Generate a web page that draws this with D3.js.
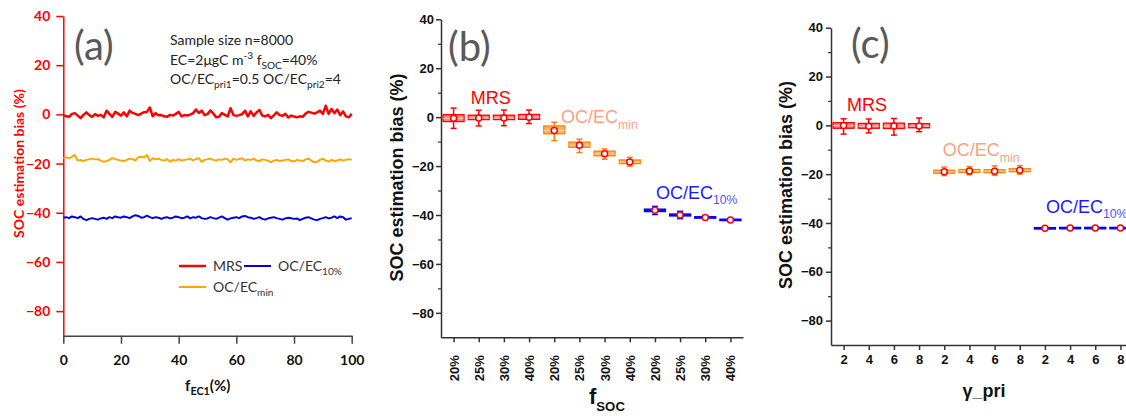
<!DOCTYPE html>
<html>
<head>
<meta charset="utf-8">
<script src="https://cdn.jsdelivr.net/npm/d3@7"></script>
<style>
  body { margin: 0; background: #fff; }
  svg { display: block; }
</style>
</head>
<body>
<script>
// panel (a): bias vs f_EC1, one value per percent step
const fEC1 = d3.range(0, 101)
const mrsLine = [
  -0.3, -0.8, -1.0, 0.2, 0.5, -0.5, -1.5, -0.2, 0.8, -0.3,
  -1.0, 0.1, -0.6, -0.2, -1.2, 1.5, 0.2, -1.0, 1.0, 0.3,
  -0.5, 0.8, -0.8, 1.5, 0.6, 0.2, -0.3, 0.3, 0.9, 1.0,
  2.8, -0.8, 0.5, -0.4, -0.3, -0.8, -1.0, -0.2, -0.5, 0.2,
  1.0, -0.8, -0.3, -0.5, -0.1, 0.5, 2.0, 0.6, 1.5, -0.3,
  0.1, 1.6, 0.4, -1.2, -1.0, 0.5, -0.2, -0.8, 2.5, -0.3,
  -0.6, -0.3, 0.1, 1.5, -0.8, 1.2, -0.6, 0.8, 1.8, -0.5,
  -0.8, -0.2, -1.5, -0.4, 0.8, -0.3, -0.6, 0.2, -1.3, -0.5,
  -0.9, -1.2, -0.8, -1.0, 0.3, 1.0, 0.7, 0.3, 0.8, 1.5,
  0.2, 3.5, 0.2, 2.2, 0.5, 2.0, -0.3, 1.2, -0.8, -1.2, 0.2
]
const minLine = [
  -17.8, -17.5, -17.8, -17.3, -16.5, -18.8, -18.5, -19.0, -18.5, -18.2,
  -18.0, -18.3, -18.2, -18.8, -19.3, -19.0, -18.5, -17.8, -18.2, -18.5,
  -18.8, -19.0, -18.5, -18.0, -18.2, -18.8, -17.5, -17.2, -17.5, -16.5,
  -19.0, -17.8, -18.3, -18.0, -18.5, -18.8, -18.2, -19.3, -18.5, -18.8,
  -18.2, -18.8, -18.5, -18.3, -18.0, -18.7, -18.2, -17.8, -19.3, -18.5,
  -18.2, -18.0, -18.5, -18.8, -18.3, -18.5, -18.0, -18.3, -19.5, -18.0,
  -18.5, -18.2, -17.8, -18.8, -18.3, -18.5, -18.0, -18.8, -19.0, -18.3,
  -18.5, -18.8, -19.5, -18.8, -18.5, -19.0, -18.8, -18.5, -18.3, -19.0,
  -19.2, -18.5, -18.8, -19.0, -18.3, -18.0, -18.8, -19.5, -19.3, -18.5,
  -18.0, -18.8, -19.2, -18.5, -19.0, -18.8, -18.3, -18.8, -18.5, -18.2, -18.5
]
const p10Line = [
  -42.0, -41.8, -42.2, -41.5, -41.8, -42.2, -41.5, -42.5, -43.0, -42.5,
  -42.2, -42.5, -42.8, -42.3, -42.0, -42.5, -41.8, -42.2, -41.5, -41.8,
  -42.0, -41.5, -41.8, -42.2, -41.5, -41.0, -41.3, -42.0, -41.8, -41.2,
  -41.8, -42.2, -41.8, -42.0, -42.5, -42.0, -41.8, -42.3, -42.0, -41.5,
  -41.8, -42.2, -42.0, -41.5, -42.3, -41.8, -42.0, -41.5, -42.2, -42.5,
  -42.3, -41.8, -42.2, -42.5, -42.0, -41.5, -42.2, -42.8, -42.3, -42.0,
  -41.8, -42.2, -41.5, -41.3, -41.8, -42.0, -42.5, -42.2, -41.8, -42.5,
  -42.8, -42.3, -42.0, -41.8, -42.2, -42.5, -42.8, -42.3, -42.0, -42.2,
  -42.5, -42.3, -43.0, -42.5, -42.0, -41.8, -42.3, -42.8, -43.0, -42.5,
  -42.2, -41.8, -42.3, -42.0, -41.5, -42.2, -41.5, -41.8, -42.8, -42.5, -42.2
]

// panel (b): boxes per f_SOC
const fsocLabels = ["20%", "25%", "30%", "40%", "20%", "25%", "30%", "40%", "20%", "25%", "30%", "40%"]
const bMrs = { mean: [-0.5, -0.4, -0.4, 0.0], q1: [-1.8, -1.0, -1.0, -0.9], q3: [1.0, 0.8, 0.8, 1.1], lo: [-4.6, -3.6, -3.5, -2.6], hi: [3.7, 2.8, 2.9, 2.9] }
const bMin = { mean: [-5.5, -11.5, -15.0, -18.3], q1: [-6.8, -12.3, -15.8, -19.0], q3: [-3.6, -10.2, -13.9, -17.5], lo: [-9.6, -14.5, -17.2, -20.0], hi: [-2.1, -9.0, -13.0, -16.4] }
const bP10 = { mean: [-38.1, -40.0, -41.0, -42.0], q1: [-38.6, -40.4, -41.3, -42.3], q3: [-37.6, -39.6, -40.7, -41.7], lo: [-39.8, -41.5, -41.5, -42.5], hi: [-36.5, -38.5, -40.3, -41.5] }

// panel (c): boxes per gamma_pri
const gammaLabels = ["2", "4", "6", "8", "2", "4", "6", "8", "2", "4", "6", "8"]
const cMrs = { mean: [-0.1, -0.4, -0.3, -0.3], q1: [-1.2, -1.2, -1.3, -1.0], q3: [1.1, 0.8, 0.9, 0.7], lo: [-3.6, -3.1, -4.0, -2.6], hi: [2.7, 2.6, 2.8, 3.0] }
const cMin = { mean: [-19.0, -18.7, -18.8, -18.4], q1: [-19.6, -19.3, -19.4, -19.0], q3: [-18.4, -18.1, -18.2, -17.8], lo: [-20.6, -20.3, -20.5, -20.0], hi: [-17.1, -16.9, -16.6, -16.5] }
const cP10 = { mean: [-42.2, -42.1, -42.1, -42.1], q1: [-42.5, -42.4, -42.4, -42.4], q3: [-41.9, -41.8, -41.8, -41.8], lo: [-42.6, -42.5, -42.5, -42.5], hi: [-41.8, -41.7, -41.7, -41.7] }

const width = 1126, height = 416
const calibri = "Lato, 'Open Sans', sans-serif"
const arial = "'Liberation Sans', Arial, sans-serif"

const svg = d3.select("body").append("svg")
  .attr("width", width)
  .attr("height", height)

// texto con sub/superindices
function rich(sel, parts, fs, small = 0.72) {
  let cur = 0
  parts.forEach(([t, k]) => {
    const off = k === "sub" ? fs * 0.3 : k === "sup" ? -fs * 0.4 : 0
    sel.append("tspan")
      .attr("dy", off - cur)
      .attr("font-size", k === "n" ? fs : fs * small)
      .text(t)
    cur = off
  })
  return sel
}

// ---------- (a) ----------
const xA = d3.scaleLinear().domain([0, 100]).range([63.3, 351.7])
const yA = d3.scaleLinear().domain([-90, 40]).range([335.7, 16])

const gA = svg.append("g")

gA.append("g")
  .attr("transform", `translate(0,${yA(-90)})`)
  .call(d3.axisBottom(xA).tickValues([0, 20, 40, 60, 80, 100]).tickSize(8).tickSizeOuter(0).tickPadding(11))
  .call(g => g.select(".domain").attr("stroke", "#444").attr("stroke-width", 1.5))
  .call(g => g.selectAll(".tick line").attr("stroke", "#444").attr("stroke-width", 1.5))
  .call(g => g.selectAll("text").attr("font-family", calibri).attr("font-weight", "bold").attr("font-size", 14).attr("fill", "#111"))

gA.append("g")
  .attr("transform", `translate(${xA(0)},0)`)
  .call(d3.axisLeft(yA).tickValues([40, 20, 0, -20, -40, -60, -80]).tickSize(7).tickSizeOuter(0).tickPadding(6))
  .call(g => g.select(".domain").attr("stroke", "#ff0000").attr("stroke-width", 1.5))
  .call(g => g.selectAll(".tick line").attr("stroke", "#ff0000").attr("stroke-width", 1.5))
  .call(g => g.selectAll("text").attr("font-family", calibri).attr("font-weight", "bold").attr("font-size", 14).attr("fill", "#ff0000"))

const lineA = d3.line().x((d, i) => xA(fEC1[i])).y(d => yA(d))
const seriesA = [
  { vals: minLine, color: "#ffa500", w: 2 },
  { vals: p10Line, color: "#0000e6", w: 2 },
  { vals: mrsLine, color: "#ff0000", w: 2.5 }
]
gA.selectAll("path.serie")
  .data(seriesA)
  .join("path")
  .attr("class", "serie")
  .attr("d", d => lineA(d.vals))
  .attr("fill", "none")
  .attr("stroke", d => d.color)
  .attr("stroke-width", d => d.w)
  .attr("stroke-linejoin", "round")

gA.append("text")
  .attr("transform", `translate(18,${(yA(-50) + yA(10)) / 2}) rotate(-90)`)
  .attr("text-anchor", "middle")
  .attr("dominant-baseline", "central")
  .attr("font-family", calibri).attr("font-weight", "bold").attr("font-size", 14)
  .attr("fill", "#ff0000")
  .text("SOC estimation bias (%)")

rich(gA.append("text")
  .attr("x", 185).attr("y", 390.5)
  .attr("font-family", calibri).attr("font-weight", "bold").attr("fill", "#111"),
  [["f", "n"], ["EC1", "sub"], ["(%)", "n"]], 15)

gA.append("text")
  .attr("x", 74).attr("y", 60)
  .attr("font-family", calibri).attr("font-size", 40).attr("fill", "#595959")
  .text("(a)")

const note = gA.append("g").attr("font-family", calibri).attr("fill", "#222")
note.append("text").attr("x", 170).attr("y", 45).attr("font-size", 14).text("Sample size n=8000")
rich(note.append("text").attr("x", 170).attr("y", 65),
  [["EC=2μgC m", "n"], ["-3", "sup"], [" f", "n"], ["SOC", "sub"], ["=40%", "n"]], 14)
rich(note.append("text").attr("x", 170).attr("y", 84),
  [["OC/EC", "n"], ["pri1", "sub"], ["=0.5 OC/EC", "n"], ["pri2", "sub"], ["=4", "n"]], 14)

// leyenda
const legA = gA.append("g").attr("font-family", calibri).attr("font-size", 14).attr("fill", "#333")
const legItems = [
  { x: 179, y: 266, color: "#ff0000", w: 2.5, parts: [["MRS", "n"]] },
  { x: 244, y: 266, color: "#0000e6", w: 2, parts: [["OC/EC", "n"], ["10%", "sub"]] },
  { x: 179, y: 287, color: "#ffa500", w: 2, parts: [["OC/EC", "n"], ["min", "sub"]] }
]
legItems.forEach(d => {
  legA.append("line")
    .attr("x1", d.x).attr("x2", d.x + 27).attr("y1", d.y).attr("y2", d.y)
    .attr("stroke", d.color).attr("stroke-width", d.w)
  rich(legA.append("text").attr("x", d.x + 34).attr("y", d.y + 5), d.parts, 14)
})

// ---------- (b) y (c) ----------
function boxPanel(cfg) {
  const x = d3.scaleLinear().domain([0.5, 12.5]).range(cfg.xr)
  const y = d3.scaleLinear().domain([-90, 40]).range(cfg.yr)
  const g = svg.append("g")

  const xAxis = g.append("g")
    .attr("transform", `translate(0,${y(-90)})`)
    .call(d3.axisBottom(x).tickValues(d3.range(1, 13)).tickFormat(i => cfg.labels[i - 1]).tickSize(5).tickSizeOuter(0))
    .call(a => a.select(".domain").attr("stroke", "#333").attr("stroke-width", 1.5))
    .call(a => a.selectAll(".tick line").attr("stroke", "#333").attr("stroke-width", 1.5))
    .call(a => a.selectAll("text").attr("font-family", arial).attr("font-weight", "bold").attr("font-size", 13).attr("fill", "#111"))

  if (cfg.rotate) {
    xAxis.selectAll("text")
      .attr("transform", "rotate(-90)")
      .attr("x", -18).attr("y", 0).attr("dy", "0.35em")
      .attr("text-anchor", "end")
  } else {
    xAxis.selectAll("text").attr("y", 10)
  }

  g.append("g")
    .attr("transform", `translate(${x(0.5)},0)`)
    .call(d3.axisLeft(y).tickValues([40, 20, 0, -20, -40, -60, -80]).tickSize(5).tickSizeOuter(0).tickPadding(cfg.pad))
    .call(a => a.select(".domain").attr("stroke", "#333").attr("stroke-width", 1.5))
    .call(a => a.selectAll(".tick line").attr("stroke", "#333").attr("stroke-width", 1.5))
    .call(a => a.selectAll("text").attr("font-family", arial).attr("font-weight", "bold").attr("font-size", 13).attr("fill", "#111"))

  g.append("g")
    .attr("transform", `translate(${x(0.5)},0)`)
    .call(d3.axisLeft(y).tickValues([30, 10, -10, -30, -50, -70]).tickSize(3).tickFormat(""))
    .call(a => a.select(".domain").remove())
    .call(a => a.selectAll(".tick line").attr("stroke", "#333").attr("stroke-width", 1.2))

  g.append("text")
    .attr("transform", `translate(${cfg.titleX},${cfg.titleY}) rotate(-90)`)
    .attr("text-anchor", "middle")
    .attr("dominant-baseline", "central")
    .attr("font-family", arial).attr("font-weight", "bold").attr("font-size", 18)
    .attr("fill", "#111")
    .text("SOC estimation bias (%)")

  g.append("text")
    .attr("x", cfg.tagX).attr("y", cfg.tagY)
    .attr("font-family", calibri).attr("font-size", 40).attr("fill", "#595959")
    .text(cfg.tag)

  const bw = 21, cap = 6
  cfg.groups.forEach((grp, gi) => {
    const rows = grp.data.mean.map((m, i) => ({
      pos: gi * 4 + i + 1, mean: m, q1: grp.data.q1[i], q3: grp.data.q3[i], lo: grp.data.lo[i], hi: grp.data.hi[i]
    }))
    const gg = g.append("g")
    // bigotes
    gg.selectAll("line.wh").data(rows).join("line").attr("class", "wh")
      .attr("x1", d => x(d.pos)).attr("x2", d => x(d.pos))
      .attr("y1", d => y(d.lo)).attr("y2", d => y(d.hi))
      .attr("stroke", grp.whisker).attr("stroke-width", 1.5)
    gg.selectAll("line.cap").data(rows.flatMap(d => [{ pos: d.pos, v: d.lo }, { pos: d.pos, v: d.hi }]))
      .join("line").attr("class", "cap")
      .attr("x1", d => x(d.pos) - cap / 2).attr("x2", d => x(d.pos) + cap / 2)
      .attr("y1", d => y(d.v)).attr("y2", d => y(d.v))
      .attr("stroke", grp.whisker).attr("stroke-width", 1.5)
    // cajas
    gg.selectAll("rect").data(rows).join("rect")
      .attr("x", d => x(d.pos) - bw / 2).attr("width", bw)
      .attr("y", d => y(d.q3)).attr("height", d => Math.max(1, y(d.q1) - y(d.q3)))
      .attr("fill", grp.fill).attr("stroke", grp.stroke).attr("stroke-width", 1.3)
    gg.selectAll("line.med").data(rows).join("line").attr("class", "med")
      .attr("x1", d => x(d.pos) - bw / 2).attr("x2", d => x(d.pos) + bw / 2)
      .attr("y1", d => y(d.mean)).attr("y2", d => y(d.mean))
      .attr("stroke", grp.median).attr("stroke-width", 1)
    gg.selectAll("circle").data(rows).join("circle")
      .attr("cx", d => x(d.pos)).attr("cy", d => y(d.mean)).attr("r", 3)
      .attr("fill", "#fff").attr("stroke", "#ff0000").attr("stroke-width", 1.5)

    const lab = g.append("text")
      .attr("x", x(grp.lx)).attr("y", y(grp.ly))
      .attr("font-family", arial).attr("fill", grp.label)
    rich(lab, grp.parts.map(p => [p[0], p[1]]), 18, 0.68)
    if (grp.subColor) lab.selectAll("tspan").filter((d, i) => i === 1).attr("fill", grp.subColor)
  })

  return { x, y, g }
}

const styles = {
  mrs: { fill: "#ff8a8a", stroke: "#ff0000", whisker: "#ff0000", median: "#ffc0c0", label: "#ff0000", parts: [["MRS", "n"]] },
  min: { fill: "#ffb46a", stroke: "#ff8000", whisker: "#ff8000", median: "#ffd0a0", label: "#ff9f80", parts: [["OC/EC", "n"], ["min", "sub"]] },
  p10: { fill: "#1a1aff", stroke: "#0000ff", whisker: "#0000ff", median: "#0000ff", label: "#1a1aff", subColor: "#5050ff", parts: [["OC/EC", "n"], ["10%", "sub"]] }
}

const pb = boxPanel({
  xr: [441, 743], yr: [337.3, 19.3], labels: fsocLabels, rotate: true, pad: 2,
  titleX: 397, titleY: 177.5, tag: "(b)", tagX: 448, tagY: 61,
  groups: [
    { ...styles.mrs, data: bMrs, lx: 1.68, ly: 5.2 },
    { ...styles.min, data: bMin, lx: 5.27, ly: -2.45 },
    { ...styles.p10, data: bP10, lx: 9.04, ly: -33.5 }
  ]
})

rich(pb.g.append("text")
  .attr("x", 589).attr("y", 404)
  .attr("font-family", arial).attr("font-weight", "bold").attr("fill", "#111"),
  [["f", "n"], ["SOC", "sub"]], 22, 0.6)

const pc = boxPanel({
  xr: [831, 1133], yr: [345, 27.7], labels: gammaLabels, rotate: false, pad: 3,
  titleX: 786, titleY: 185, tag: "(c)", tagX: 851, tagY: 58,
  groups: [
    { ...styles.mrs, data: cMrs, lx: 1.14, ly: 5.7 },
    { ...styles.min, data: cMin, lx: 4.94, ly: -12.7 },
    { ...styles.p10, data: cP10, lx: 9.04, ly: -35.8 }
  ]
})

pc.g.append("text")
  .attr("x", 984).attr("y", 397)
  .attr("text-anchor", "middle")
  .attr("font-family", arial).attr("font-weight", "bold").attr("font-size", 18).attr("fill", "#111")
  .text("γ_pri")
</script>
</body>
</html>
